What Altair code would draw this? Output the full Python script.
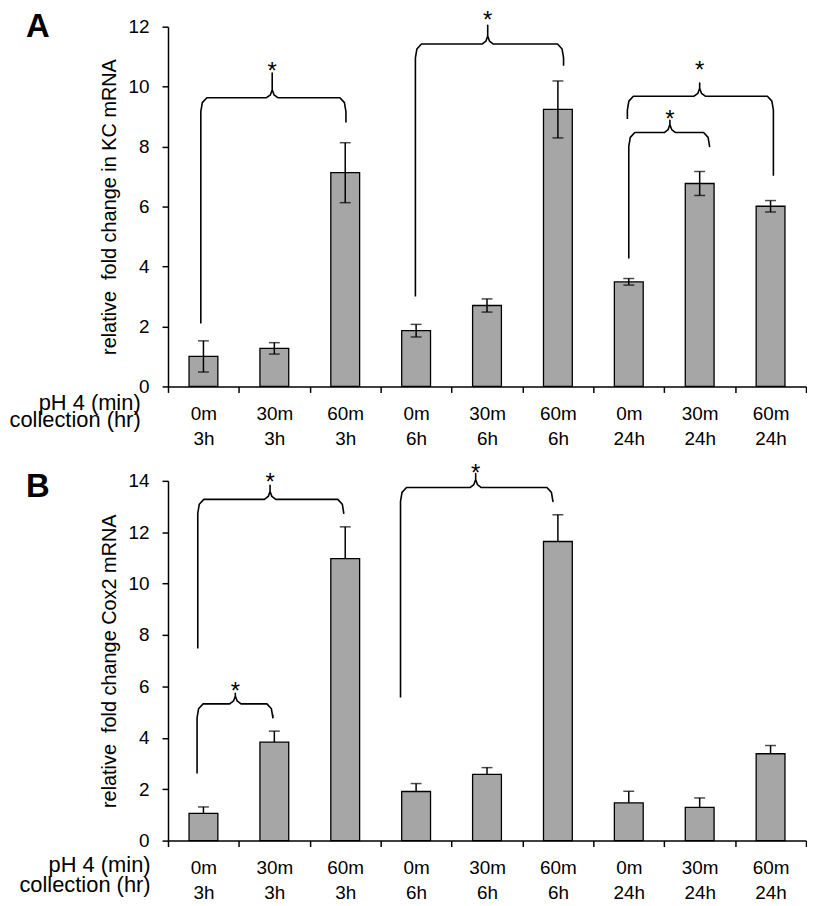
import altair as alt
import pandas as pd

FONT = "Liberation Sans"

CATS = ["0m|3h", "30m|3h", "60m|3h", "0m|6h", "30m|6h", "60m|6h", "0m|24h", "30m|24h", "60m|24h"]

# Panel A: KC mRNA
KC_MEAN = [1.0, 1.27, 7.13, 1.86, 2.70, 9.24, 3.49, 6.77, 6.01]
KC_ERR = [0.52, 0.19, 1.0, 0.21, 0.22, 0.95, 0.11, 0.40, 0.19]
KC_BR_LEFT_X = [0.463, 3.49, 6.50, 6.48]
KC_BR_LEFT_Y = [2.1, 3.0, 4.27, 8.92]
KC_BR_RIGHT_X = [2.51, 5.58, 7.64, 8.54]
KC_BR_RIGHT_Y = [8.8, 10.7, 8.03, 7.03]
KC_BR_LEVEL = [9.63, 11.42, 8.47, 9.68]
KC_BR_PEAK_X = [1.47, 4.51, 7.08, 7.50]
KC_BR_PEAK_Y = [10.45, 12.05, 8.88, 10.12]
KC_STAR_Y = [10.71, 12.42, 9.12, 10.75]

# Panel B: Cox2 mRNA
COX_MEAN = [1.06, 3.83, 10.97, 1.91, 2.58, 11.64, 1.47, 1.29, 3.38]
COX_ERR = [0.25, 0.43, 1.24, 0.31, 0.26, 1.04, 0.45, 0.37, 0.32]
COX_BR_LEFT_X = [0.42, 0.41, 3.28]
COX_BR_LEFT_Y = [7.48, 2.61, 5.57]
COX_BR_RIGHT_X = [2.48, 1.48, 5.43]
COX_BR_RIGHT_Y = [12.74, 4.9, 13.25]
COX_BR_LEVEL = [13.28, 5.32, 13.74]
COX_BR_PEAK_X = [1.44, 0.95, 4.34]
COX_BR_PEAK_Y = [13.83, 5.73, 14.28]
COX_STAR_Y = [14.17, 6.06, 14.55]

W, H = 642, 362


def brace_rows(xl, yl, xr, yr, lev, xm, ypk, ppu, bid):
    dxr = 0.085
    dyr = 14 / ppu
    f1 = 3 / ppu
    f2 = 8 / ppu
    pts = [
        (xl, yl), (xl, lev - dyr), (xl + 0.25 * dxr, lev - 0.35 * dyr), (xl + dxr, lev),
        (xm - 0.08, lev), (xm - 0.025, lev + f1), (xm, lev + f2), (xm, ypk),
        (xm, lev + f2), (xm + 0.025, lev + f1), (xm + 0.08, lev),
        (xr - dxr, lev), (xr - 0.25 * dxr, lev - 0.35 * dyr), (xr, lev - dyr), (xr, yr),
    ]
    return [{"b": bid, "o": i, "px": p[0], "py": p[1]} for i, p in enumerate(pts)]


def panel(letter, letter_y, means, errs, both_caps, ymax, ytitle,
          blx, bly, brx, bry, blev, bpx, bpy, stary, title_x, title_y, title_lh):
    ppu = H / ymax
    df = pd.DataFrame({
        "cat": CATS,
        "mean": means,
        "hi": [m + e for m, e in zip(means, errs)],
        "lo": [(m - e) if both_caps else m for m, e in zip(means, errs)],
    })
    yscale = alt.Scale(domain=[0, ymax], nice=False, zero=True)
    yaxis = alt.Axis(title=ytitle, values=list(range(0, ymax + 1, 2)), labelFontSize=19,
                     labelPadding=13, tickSize=6, titleFontSize=20, titleFontWeight="normal",
                     titlePadding=9)
    xaxis = alt.Axis(title=["pH 4 (min)", "collection (hr)"], titleX=title_x, titleY=title_y,
                     titleAlign="right", titleAngle=0, titleBaseline="alphabetic",
                     titleFontSize=22, titleFontWeight="normal", titleLineHeight=title_lh,
                     labelExpr="split(datum.label, '|')", labelAngle=0, labelFontSize=19,
                     labelLineHeight=25, labelPadding=12, tickSize=6, tickBand="extent",
                     labelOverlap=False)
    xband = alt.X("cat:N", sort=CATS, scale=alt.Scale(paddingInner=0, paddingOuter=0), axis=xaxis)

    bars = alt.Chart(df).mark_bar(size=29, fill="#a6a6a6", stroke="black", strokeWidth=1.3).encode(
        x=xband, y=alt.Y("mean:Q", scale=yscale, axis=yaxis))
    rule = alt.Chart(df).mark_rule(color="black", strokeWidth=1.5).encode(
        x=xband, y=alt.Y("lo:Q", scale=yscale, axis=yaxis), y2="hi:Q")
    cap_hi = alt.Chart(df).mark_tick(color="black", size=11, thickness=1.5).encode(
        x=xband, y=alt.Y("hi:Q", scale=yscale, axis=yaxis))
    layers = [bars, rule, cap_hi]
    if both_caps:
        cap_lo = alt.Chart(df).mark_tick(color="black", size=11, thickness=1.5).encode(
            x=xband, y=alt.Y("lo:Q", scale=yscale, axis=yaxis))
        layers.append(cap_lo)
    band_layer = alt.layer(*layers)

    rows = []
    for i in range(len(blx)):
        rows += brace_rows(blx[i], bly[i], brx[i], bry[i], blev[i], bpx[i], bpy[i], ppu, i)
    bdf = pd.DataFrame(rows)
    sdf = pd.DataFrame({"sx": bpx, "sy": stary})
    xq = alt.Scale(domain=[0, 9], nice=False, zero=False)
    braces = alt.Chart(bdf).mark_line(color="black", strokeWidth=1.6, strokeJoin="round").encode(
        x=alt.X("px:Q", scale=xq, axis=None),
        y=alt.Y("py:Q", scale=yscale, axis=yaxis),
        detail="b:N", order="o:Q")
    stars = alt.Chart(sdf).mark_text(text="*", fontSize=24, baseline="alphabetic", dy=14,
                                      color="black").encode(
        x=alt.X("sx:Q", scale=xq, axis=None),
        y=alt.Y("sy:Q", scale=yscale, axis=yaxis))
    q_layer = alt.layer(braces, stars)

    lab = alt.Chart(pd.DataFrame({"t": [letter]})).mark_text(
        fontSize=33, fontWeight="bold", align="left", baseline="alphabetic", color="black").encode(
        text="t:N", x=alt.value(-143), y=alt.value(letter_y))

    return alt.layer(band_layer, q_layer, lab).resolve_scale(x="independent").properties(
        width=W, height=H)


pa = panel("A", 10, KC_MEAN, KC_ERR, True, 12, "relative\u00a0 fold change in KC mRNA",
           KC_BR_LEFT_X, KC_BR_LEFT_Y, KC_BR_RIGHT_X, KC_BR_RIGHT_Y, KC_BR_LEVEL,
           KC_BR_PEAK_X, KC_BR_PEAK_Y, KC_STAR_Y, -28, 23, 17)
pb = panel("B", 16, COX_MEAN, COX_ERR, False, 14, "relative\u00a0 fold change Cox2 mRNA",
           COX_BR_LEFT_X, COX_BR_LEFT_Y, COX_BR_RIGHT_X, COX_BR_RIGHT_Y, COX_BR_LEVEL,
           COX_BR_PEAK_X, COX_BR_PEAK_Y, COX_STAR_Y, -18, 31, 20)

chart = alt.vconcat(pa, pb, spacing=13).properties(
    padding={"left": 0, "top": -2, "right": 0, "bottom": 0}, background="white"
).configure_view(stroke=None).configure_axis(
    domainColor="black", tickColor="black", labelColor="black", titleColor="black",
    domainWidth=1.5, tickWidth=1.5, grid=False, labelFont=FONT, titleFont=FONT
).configure_text(font=FONT)

chart.save("out.html", embed_options={"renderer": "svg", "actions": False})
